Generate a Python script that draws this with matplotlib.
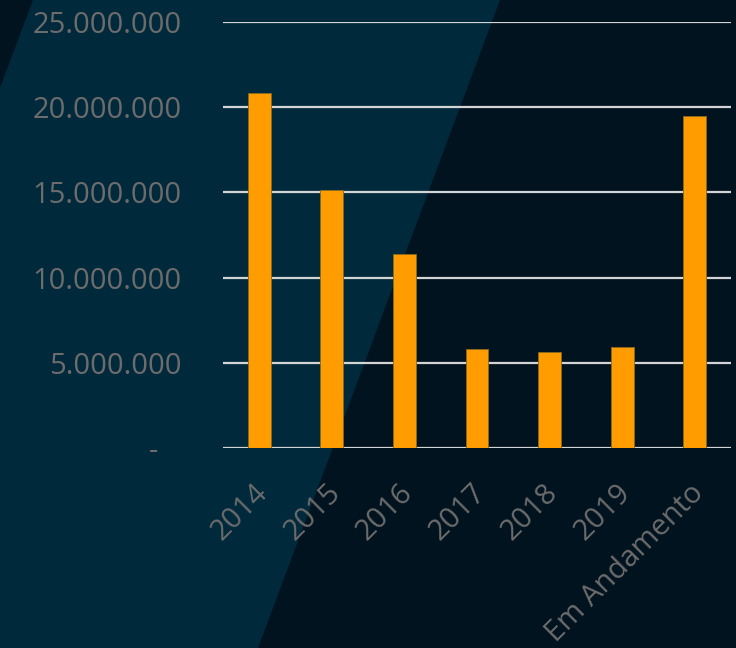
import matplotlib
matplotlib.use("Agg")
import matplotlib.pyplot as plt
import matplotlib.transforms as mtransforms
from matplotlib.patches import Polygon
from matplotlib.ticker import FuncFormatter, MultipleLocator

# ==== data ====
categories = ["2014", "2015", "2016", "2017", "2018", "2019", "Em Andamento"]
values = [20820000, 15140000, 11380000, 5810000, 5630000, 5930000, 19480000]

# ==== colours ====
bg_dark = "#00131f"
bg_light = "#002a3c"
bar_color = "#ff9c00"
grid_color = "#d2d4d6"
text_color = "#6c6c6c"

W, H = 736, 648
fig = plt.figure(figsize=(W / 100, H / 100), dpi=100)
fig.patch.set_facecolor(bg_dark)

# background axes with the diagonal lighter band
bg = fig.add_axes([0, 0, 1, 1], zorder=-1)
bg.set_xlim(0, W)
bg.set_ylim(H, 0)
bg.axis("off")
bg.add_patch(Polygon([(33, 0), (500, 0), (258, H), (0, H), (0, 88)],
                     closed=True, facecolor=bg_light, edgecolor="none"))

ax = fig.add_axes([223 / W, 200 / H, 508 / W, 426 / H])
ax.set_facecolor("none")

x = list(range(len(categories)))
ax.bar(x, values, width=0.315, color=bar_color, edgecolor="#8a6a1e",
       linewidth=0.6, zorder=3)

ax.set_xlim(-0.5, len(categories) - 0.5)
ax.set_ylim(0, 25000000)
ax.yaxis.set_major_locator(MultipleLocator(5000000))


def fmt(v, pos):
    # accounting style: zero shown as a dash, padded like Excel does
    if v == 0:
        return "-   "
    return f"{int(v):,}".replace(",", ".")


ax.yaxis.set_major_formatter(FuncFormatter(fmt))
ax.grid(axis="y", color=grid_color, linewidth=1.6, zorder=1)
ax.set_axisbelow(True)
for s in ax.spines.values():
    s.set_visible(False)

ax.set_xticks(x)
ax.set_xticklabels(categories, rotation=45, ha="right", rotation_mode="anchor")
ax.tick_params(axis="both", length=0, colors=text_color)
ax.tick_params(axis="y", pad=30, labelsize=21)
ax.tick_params(axis="x", pad=22, labelsize=21)
shift = mtransforms.ScaledTranslation(-6 / 100, 0, fig.dpi_scale_trans)
for lab in ax.get_xticklabels():
    lab.set_transform(lab.get_transform() + shift)
for lab in ax.get_xticklabels() + ax.get_yticklabels():
    lab.set_fontfamily("Open Sans")
    lab.set_color(text_color)

fig.savefig("out.png", dpi=100, facecolor=fig.get_facecolor())
